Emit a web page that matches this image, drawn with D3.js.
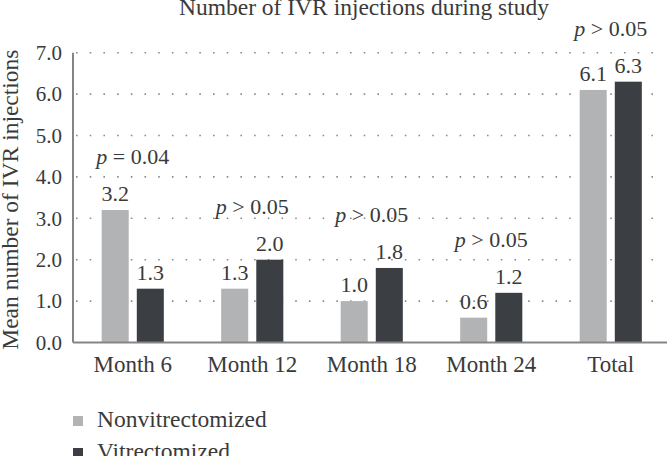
<!DOCTYPE html>
<html>
<head>
<meta charset="utf-8">
<script src="https://cdn.jsdelivr.net/npm/d3@7"></script>
<style>
  html, body { margin: 0; padding: 0; background: #fff; }
  svg { display: block; }
  text { font-family: "Liberation Serif", "DejaVu Serif", serif; fill: #3a3a3a; }
</style>
</head>
<body>
<div id="chart"></div>
<script>
// Data
const categories = ['Month 6', 'Month 12', 'Month 18', 'Month 24', 'Total'];
const nonvitrectomized = [3.2, 1.3, 1.0, 0.6, 6.1];
const vitrectomized = [1.3, 2.0, 1.8, 1.2, 6.3];
const pLabels = ['= 0.04', '> 0.05', '> 0.05', '> 0.05', '> 0.05'];
const yTicks = [0, 1, 2, 3, 4, 5, 6, 7];
const seriesNames = ['Nonvitrectomized', 'Vitrectomized'];

const width = 671, height = 456;
const colors = ['#b2b3b5', '#3b3e43'];

const svg = d3.select('#chart').append('svg')
  .attr('width', width).attr('height', height);

const x0 = d3.scaleBand().domain(categories)
  .range([73, 670.5]).paddingInner(0.48).paddingOuter(0.24);
const x1 = d3.scaleBand().domain(seriesNames)
  .range([0, x0.bandwidth()]).paddingInner(0.23);
const y = d3.scaleLinear().domain([0, 7]).range([342.5, 52.7]);

// Title (cut at the top in the original)
svg.append('text')
  .attr('x', 364).attr('y', 15)
  .attr('text-anchor', 'middle')
  .attr('font-size', 23.5)
  .text('Number of IVR injections during study');

// Dotted gridlines
svg.append('g')
  .selectAll('line')
  .data(yTicks.filter(d => d > 0))
  .join('line')
  .attr('x1', 76).attr('x2', 660)
  .attr('y1', d => y(d)).attr('y2', d => y(d))
  .attr('stroke', '#8c8c8c')
  .attr('stroke-width', 1.6)
  .attr('stroke-dasharray', '1.6,12.1');

// Y tick labels
svg.append('g')
  .selectAll('text')
  .data(yTicks)
  .join('text')
  .attr('x', 62).attr('y', d => y(d))
  .attr('dy', '0.35em')
  .attr('text-anchor', 'end')
  .attr('font-size', 21)
  .text(d => d3.format('.1f')(d));

// Y axis title
svg.append('text')
  .attr('transform', `translate(18,${(y(0) + y(7)) / 2 + 2}) rotate(-90)`)
  .attr('text-anchor', 'middle')
  .attr('font-size', 23.5)
  .text('Mean number of IVR injections');

// Bars
const rows = categories.map((c, i) => ({
  cat: c,
  vals: [nonvitrectomized[i], vitrectomized[i]],
  p: pLabels[i]
}));

const groups = svg.append('g')
  .selectAll('g')
  .data(rows)
  .join('g')
  .attr('transform', d => `translate(${x0(d.cat)},0)`);

groups.selectAll('rect')
  .data(d => d.vals.map((v, j) => ({ v, s: seriesNames[j], j })))
  .join('rect')
  .attr('x', d => x1(d.s))
  .attr('width', x1.bandwidth())
  .attr('y', d => y(d.v))
  .attr('height', d => y(0) - y(d.v))
  .attr('fill', d => colors[d.j]);

// Value labels
groups.selectAll('text.val')
  .data(d => d.vals.map((v, j) => ({ v, s: seriesNames[j] })))
  .join('text')
  .attr('class', 'val')
  .attr('x', d => x1(d.s) + x1.bandwidth() / 2)
  .attr('y', d => y(d.v) - 9)
  .attr('text-anchor', 'middle')
  .attr('font-size', 22)
  .text(d => d3.format('.1f')(d.v));

// p-value labels
const pText = groups.append('text')
  .attr('x', x0.bandwidth() / 2)
  .attr('y', d => y(d3.max(d.vals)) - 46)
  .attr('text-anchor', 'middle')
  .attr('font-size', 22);
pText.append('tspan').attr('font-style', 'italic').text('p');
pText.append('tspan').text(d => ' ' + d.p);

// Axes lines
svg.append('line')
  .attr('x1', 73).attr('x2', 667)
  .attr('y1', y(0)).attr('y2', y(0))
  .attr('stroke', '#858585').attr('stroke-width', 2);
svg.append('line')
  .attr('x1', 73).attr('x2', 73)
  .attr('y1', y(7)).attr('y2', y(0))
  .attr('stroke', '#858585').attr('stroke-width', 2);

// X labels
svg.append('g')
  .selectAll('text')
  .data(categories)
  .join('text')
  .attr('x', d => x0(d) + x0.bandwidth() / 2)
  .attr('y', 371.5)
  .attr('text-anchor', 'middle')
  .attr('font-size', 23)
  .text(d => d);

// Legend
const legend = svg.append('g')
  .selectAll('g')
  .data(seriesNames)
  .join('g')
  .attr('transform', (d, i) => `translate(73,${416 + i * 32})`);
legend.append('rect')
  .attr('width', 10).attr('height', 10)
  .attr('fill', (d, i) => colors[i]);
legend.append('text')
  .attr('x', 24).attr('y', 11)
  .attr('font-size', 23.5)
  .text(d => d);
</script>
</body>
</html>
